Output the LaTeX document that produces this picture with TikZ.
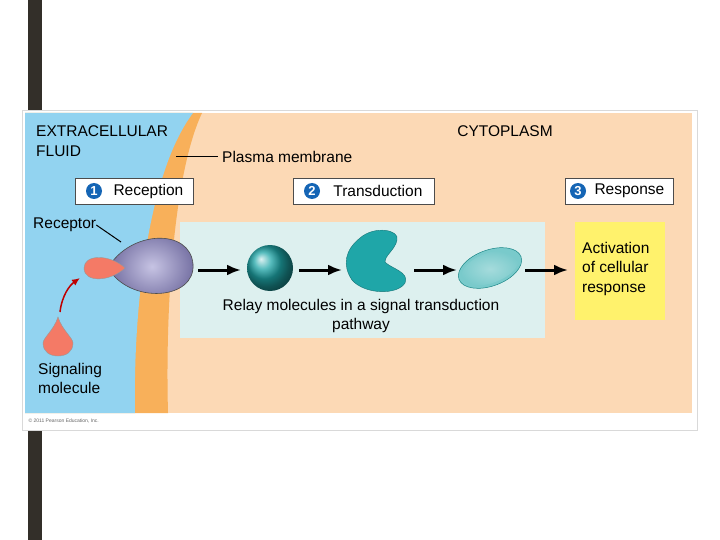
\documentclass[tikz,border=0pt]{standalone}
\usepackage{fontspec}
\setmainfont{Liberation Sans}
\usetikzlibrary{arrows.meta}
\begin{document}
\begin{tikzpicture}[x=1pt,y=-1pt,
  lab/.style={font=\fontsize{15.5}{19.5}\selectfont, inner sep=0pt},
  stepbox/.style={draw=black!70, fill=white, line width=0.8pt, minimum height=26pt, inner sep=3pt, anchor=west, align=right, font=\fontsize{15.5}{19}\selectfont},
  num/.style={circle, fill=numblue, text=white, inner sep=0pt, minimum size=16pt, font=\bfseries\fontsize{13}{13}\selectfont},
  flow/.style={-{Latex[length=14pt,width=11pt]}, line width=3pt}]
\definecolor{numblue}{HTML}{1565B5}
\definecolor{peach}{HTML}{FCD9B5}
\definecolor{fluid}{HTML}{92D3F0}
\definecolor{memb}{HTML}{F8B05A}
\definecolor{relay}{HTML}{DDF0EF}
\definecolor{teal}{HTML}{1FA6A8}
\definecolor{pinkm}{HTML}{F47A66}
\definecolor{purp}{HTML}{8E88C8}
\definecolor{ylw}{HTML}{FFF26C}
\useasboundingbox (0,0) rectangle (720,540);
\fill[white] (0,0) rectangle (720,540);
\fill[black!85!olive] (28,0) rectangle (42,540);
\fill[white] (22,110) rectangle (697,430);
\draw[black!15] (22,110) rectangle (697,430);
\fill[peach] (25,113) rectangle (692,413);
% membrane and fluid
\fill[memb] (25,113) -- (202,113) .. controls (175,170) and (165,300) .. (168,413) -- (25,413) -- cycle;
\fill[fluid] (25,113) -- (193,113) .. controls (150,170) and (133,300) .. (135,413) -- (25,413) -- cycle;
\node[anchor=west, font=\fontsize{5}{5}\selectfont, text=black!60] (copy) at (25,421) {\textcopyright\ 2011 Pearson Education, Inc.};
% labels
\node[lab, anchor=west, align=left] (ecf) at (36,141) {EXTRACELLULAR\\FLUID};
\node[lab, anchor=west] (pm) at (222,157) {Plasma membrane};
\coordinate (pmend) at (176,157);
\draw[line width=1pt] (pmend) -- ([xshift=-4pt]pm.west);
\node[lab] (cyto) at (505,131) {CYTOPLASM};
% step boxes
\node[stepbox, minimum width=118pt] (b1) at (75,191) {\hspace*{28pt}Reception};
\node[num] (n1) at (94,191) {1};
\node[stepbox, minimum width=141pt] (b2) at (293,191) {\hspace*{28pt}Transduction};
\node[num] (n2) at (312,191) {2};
\node[stepbox, minimum width=108pt] (b3) at (565,191) {\hspace*{20pt}Response};
\node[num] (n3) at (578,191) {3};
% relay box
\fill[relay] (180,222) rectangle (545,338);
\node[fill=ylw, minimum width=90pt, minimum height=98pt, anchor=north west] (yb) at (575,222) {};
\node[lab, anchor=north west, align=left] (act) at (582,242) {Activation\\of cellular\\response};
% receptor
\shade[inner color=purp!50!white, outer color=purp!80!black, draw=black!70, line width=0.6pt] (108,268) .. controls (130,230) and (190,228) .. (193,264)
  .. controls (196,300) and (130,305) .. (108,268) -- cycle;
\node[inner sep=0pt, minimum size=1pt] (rec) at (150,265) {};
\fill[pinkm, draw=black!40, line width=0.4pt] (125,268) .. controls (110,254) and (84,254) .. (84,268)
  .. controls (84,283) and (110,282) .. (125,268) -- cycle;
\node[lab, anchor=west] (recl) at (33,225) {Receptor};
\coordinate (rectip) at (121,242);
\draw[line width=1pt] (recl.east) -- (rectip);
% signaling molecule
\fill[pinkm, draw=black!40, line width=0.4pt] (58,317) .. controls (62,330) and (73,338) .. (73,343)
  .. controls (73,352) and (66,356) .. (58,356) .. controls (50,356) and (43,352) .. (43,343)
  .. controls (43,338) and (54,330) .. (58,317) -- cycle;
\coordinate (sm) at (60,312);
\coordinate (lig) at (80,278);
\draw[-{Latex[length=8pt,width=7pt]}, line width=1.5pt, red!75!black] (sm) .. controls (62,295) and (70,285) .. (lig);
\node[lab, anchor=north west, align=left] (sml) at (38,363) {Signaling\\molecule};
% relay molecules
\shade[ball color=teal] (270,268) circle (23);
\node[inner sep=0pt, minimum size=46pt, circle] (r1) at (270,268) {};
\fill[teal, draw=teal!70!black, line width=0.4pt] (360,238) .. controls (375,225) and (400,230) .. (397,240)
  .. controls (395,250) and (385,255) .. (385,262) .. controls (390,268) and (410,272) .. (405,283)
  .. controls (398,295) and (365,295) .. (352,280) .. controls (342,265) and (345,250) .. (360,238) -- cycle;
\node[inner sep=0pt, minimum size=1pt] (r2) at (378,262) {};
\fill[teal!60, draw=teal!80!black, line width=0.5pt, rotate around={20:(490,268)}] (490,268) ellipse (33 and 18);
\node[inner sep=0pt, minimum size=1pt] (r3) at (490,268) {};
\shade[inner color=white!60!teal, outer color=teal!60, rotate around={20:(490,268)}] (490,268) ellipse (30 and 15);
% arrows
\coordinate (a1s) at (198,270); \coordinate (a1e) at (241,270);
\coordinate (a2s) at (299,270); \coordinate (a2e) at (342,270);
\coordinate (a3s) at (414,270); \coordinate (a3e) at (457,270);
\coordinate (a4s) at (525,270); \coordinate (a4e) at (568,270);
\draw[flow] (a1s) -- (a1e);
\draw[flow] (a2s) -- (a2e);
\draw[flow] (a3s) -- (a3e);
\draw[flow] (a4s) -- (a4e);
\node[lab, align=center] (relt) at (361,316) {Relay molecules in a signal transduction\\pathway};
\end{tikzpicture}
\end{document}
